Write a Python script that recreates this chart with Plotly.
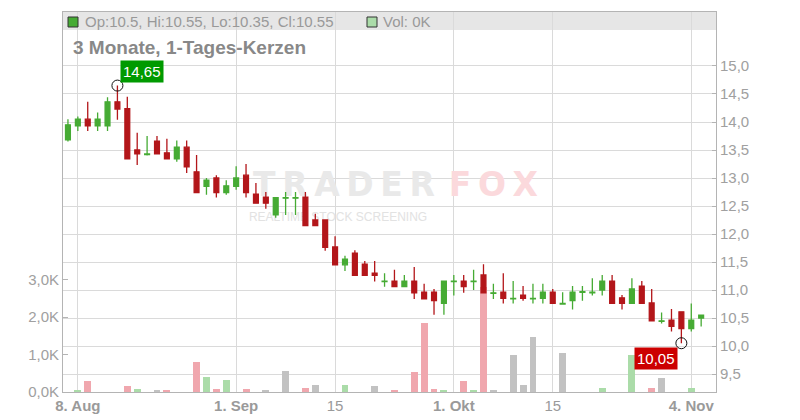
import plotly.graph_objects as go
import pandas as pd

# ---------------- data ----------------
dates = [d.strftime("%Y-%m-%d") for d in pd.bdate_range("2024-08-07", "2024-11-05")]

opens = [13.68, 13.93, 14.05, 13.93, 13.93, 14.36, 14.24, 13.50, 13.42, 13.66,
         13.45, 13.34, 13.55, 13.11, 12.85, 13.00, 12.74, 12.85, 13.05, 12.71,
         12.66, 12.34, 12.64, 12.64, 12.66, 12.25, 12.25, 11.77, 11.45, 11.66,
         11.46, 11.30, 11.15, 11.16, 11.06, 11.16, 10.96, 10.96, 10.76, 11.15,
         11.16, 11.15, 11.27, 10.94, 10.96, 10.84, 10.91, 10.84, 10.85, 10.96,
         10.75, 10.81, 10.96, 10.95, 11.00, 11.16, 10.86, 10.76, 11.07, 10.77,
         10.44, 10.46, 10.61, 10.31, 10.50]
highs = [14.05, 14.10, 14.36, 14.17, 14.44, 14.65, 14.45, 13.81, 13.75, 13.75,
         13.70, 13.67, 13.67, 13.41, 13.00, 13.05, 12.96, 13.21, 13.25, 12.91,
         12.75, 12.66, 12.75, 12.75, 12.75, 12.36, 12.25, 11.96, 11.61, 11.71,
         11.52, 11.52, 11.30, 11.36, 11.27, 11.41, 11.11, 11.02, 11.16, 11.27,
         11.27, 11.36, 11.46, 11.11, 11.30, 11.16, 11.07, 11.11, 11.11, 11.02,
         10.96, 11.07, 11.07, 11.21, 11.27, 11.27, 10.91, 11.21, 11.16, 11.02,
         10.60, 10.66, 10.61, 10.76, 10.55]
lows = [13.65, 13.84, 13.84, 13.84, 13.84, 14.04, 13.34, 13.23, 13.40, 13.43,
        13.34, 13.29, 13.09, 12.74, 12.70, 12.65, 12.70, 12.79, 12.65, 12.55,
        12.45, 12.29, 12.34, 12.34, 12.15, 12.15, 11.70, 11.45, 11.34, 11.26,
        11.26, 11.15, 11.06, 11.06, 11.06, 10.84, 10.84, 10.56, 10.56, 10.90,
        10.95, 11.00, 10.95, 10.84, 10.76, 10.76, 10.81, 10.76, 10.76, 10.76,
        10.75, 10.65, 10.81, 10.90, 10.90, 10.76, 10.65, 10.76, 10.76, 10.45,
        10.40, 10.26, 10.05, 10.26, 10.35]
closes = [13.95, 14.05, 13.93, 14.05, 14.36, 14.23, 13.34, 13.43, 13.43, 13.43,
          13.34, 13.55, 13.20, 12.74, 12.96, 12.74, 12.86, 13.00, 12.74, 12.55,
          12.55, 12.65, 12.65, 12.65, 12.15, 12.15, 11.76, 11.45, 11.55, 11.26,
          11.26, 11.26, 11.16, 11.06, 11.16, 10.95, 10.84, 10.81, 11.16, 11.16,
          11.06, 11.16, 10.95, 10.95, 10.85, 10.85, 10.85, 10.85, 10.96, 10.76,
          10.76, 10.96, 10.97, 10.96, 11.16, 10.76, 10.76, 11.02, 10.76, 10.45,
          10.45, 10.35, 10.31, 10.46, 10.55]
volumes_k = [0.00, 0.03, 0.29, 0.00, 0.00, 0.00, 0.16, 0.08, 0.00, 0.03,
             0.05, 0.00, 0.00, 0.80, 0.40, 0.08, 0.32, 0.00, 0.08, 0.00,
             0.05, 0.00, 0.56, 0.00, 0.10, 0.20, 0.00, 0.00, 0.18, 0.00,
             0.00, 0.16, 0.00, 0.05, 0.00, 0.53, 1.85, 0.08, 0.05, 0.00,
             0.29, 0.05, 2.80, 0.05, 0.00, 1.00, 0.20, 1.47, 0.00, 0.00,
             1.04, 0.00, 0.00, 0.00, 0.10, 0.00, 0.00, 1.00, 0.00, 0.10,
             0.37, 0.00, 0.00, 0.10, 0.00]

tick_dates = ["2024-08-08", "2024-08-30", "2024-09-13", "2024-10-01", "2024-10-15", "2024-11-04"]
tick_labels = ["<b>8. Aug</b>", "<b>1. Sep</b>", "15", "<b>1. Okt</b>", "15", "<b>4. Nov</b>"]
price_ticks = [9.5, 10.0, 10.5, 11.0, 11.5, 12.0, 12.5, 13.0, 13.5, 14.0, 14.5, 15.0]
vol_ticks = [0, 1, 2, 3]

# ---------------- styling ----------------
FONT = "Liberation Sans, Arial, sans-serif"
GREEN = "#46ab34"
RED = "#b3161a"
VOL_UP = "#abdca9"
VOL_DN = "#f0a7ae"
VOL_EQ = "#c2c2c2"
GRID = "#dadada"
AXIS = "#b4b4b4"
TXT = "#a0a0a0"

x = list(range(len(dates)))
tick_pos = [dates.index(d) for d in tick_dates]

vol_colors = []
for i in range(len(closes)):
    if i == 0 or closes[i] == closes[i - 1]:
        vol_colors.append(VOL_EQ)
    elif closes[i] > closes[i - 1]:
        vol_colors.append(VOL_UP)
    else:
        vol_colors.append(VOL_DN)

i_hi = highs.index(max(highs))
i_lo = lows.index(min(lows))

fig = go.Figure()

# watermark (base layer, below candles)
TS = "\u2009"
fig.add_trace(go.Scatter(
    x=[27.9, 43.0], y=[5.45, 5.45], mode="text",
    text=["<b>" + TS.join("TRADER") + "</b>", "<b>" + TS.join("FOX") + "</b>"],
    textfont=dict(family="DejaVu Sans", size=33, color=["#e9e9e9", "#fbd9dc"]),
    yaxis="y", hoverinfo="skip", showlegend=False))
fig.add_trace(go.Scatter(
    x=[27.3], y=[4.66], mode="text",
    text=["REALTIME STOCK SCREENING"],
    textfont=dict(family=FONT, size=12, color="#e2e2e2"),
    yaxis="y", hoverinfo="skip", showlegend=False))

# volume
fig.add_trace(go.Bar(
    x=x, y=volumes_k, marker=dict(color=vol_colors, line=dict(width=0)),
    width=0.7, yaxis="y", showlegend=False, hoverinfo="skip"))

# candles
fig.add_trace(go.Candlestick(
    x=x, open=opens, high=highs, low=lows, close=closes,
    increasing=dict(line=dict(color=GREEN, width=1.3), fillcolor=GREEN),
    decreasing=dict(line=dict(color=RED, width=1.3), fillcolor=RED),
    whiskerwidth=0, yaxis="y2", showlegend=False))

# extreme markers
fig.add_trace(go.Scatter(
    x=[i_hi, i_lo], y=[highs[i_hi], lows[i_lo]], mode="markers",
    marker=dict(symbol="circle-open", size=11, color="#111", line=dict(width=1)),
    yaxis="y2", showlegend=False, hoverinfo="skip"))

def fmt(v):
    return f"{v:.2f}".replace(".", ",")

# page body has an 8px margin; plot area wanted at x 63..716, y 12..392 of the window
OFF = 8
L, T, PW, PH = 63 - OFF, 12 - OFF, 653.0, 380.0
W = PW
H = PH

annotations = [
    dict(text=fmt(highs[i_hi]), x=i_hi, y=highs[i_hi], xref="x", yref="y2",
         xanchor="left", yanchor="bottom", xshift=3, yshift=3, showarrow=False,
         bgcolor="#009a00", borderpad=2, font=dict(family=FONT, size=15, color="white")),
    dict(text=fmt(lows[i_lo]), x=i_lo, y=lows[i_lo], xref="x", yref="y2",
         xanchor="right", yanchor="top", xshift=-3, yshift=-4, showarrow=False,
         bgcolor="#cc0000", borderpad=2, font=dict(family=FONT, size=15, color="white")),
    dict(text="<b>3 Monate, 1-Tages-Kerzen</b>", xref="paper", yref="paper",
         x=(71 - 63) / W, y=(392 - 48) / H, xanchor="left", yanchor="middle",
         showarrow=False, font=dict(family=FONT, size=19, color="#888888")),
    dict(text=f"Op:{opens[-1]:g}, Hi:{highs[-1]:g}, Lo:{lows[-1]:g}, Cl:{closes[-1]:g}",
         xref="paper", yref="paper", x=(83 - 63) / W, y=(392 - 21.5) / H,
         xanchor="left", yanchor="middle", showarrow=False,
         font=dict(family=FONT, size=15, color="#999999")),
    dict(text=f"Vol: {volumes_k[-1]:.0f}K", xref="paper", yref="paper",
         x=(381 - 63) / W, y=(392 - 21.5) / H, xanchor="left", yanchor="middle",
         showarrow=False, font=dict(family=FONT, size=15, color="#999999")),
]

shapes = [
    dict(type="rect", xref="paper", yref="paper", x0=0, x1=1,
         y0=(392 - 30) / H, y1=1, fillcolor="#e6e6e6", line=dict(width=0), layer="below"),
    dict(type="rect", xref="paper", yref="paper", x0=5 / W, x1=15 / W,
         y0=(392 - 27) / H, y1=(392 - 17) / H, fillcolor=GREEN,
         line=dict(color="#333333", width=1)),
    dict(type="rect", xref="paper", yref="paper", x0=304 / W, x1=314 / W,
         y0=(392 - 27) / H, y1=(392 - 17) / H, fillcolor=VOL_UP,
         line=dict(color="#333333", width=1)),
]

fig.update_layout(
    width=800 - OFF, height=420 - OFF,
    margin=dict(l=L, r=800 - OFF - L - PW, t=T, b=420 - OFF - T - PH, autoexpand=False),
    paper_bgcolor="white", plot_bgcolor="white",
    font=dict(family=FONT, size=15, color=TXT),
    showlegend=False, bargap=0,
    annotations=annotations, shapes=shapes,
    xaxis=dict(
        range=[-0.5, 65.5], tickmode="array", tickvals=tick_pos, ticktext=tick_labels,
        showgrid=True, gridcolor=GRID, gridwidth=1, zeroline=False,
        showline=True, linecolor=AXIS, linewidth=1, mirror=True, ticks="",
        tickfont=dict(family=FONT, size=15, color="#9a9a9a"), automargin=False,
        rangeslider=dict(visible=False), fixedrange=True),
    yaxis=dict(
        range=[0, 10.16], tickmode="array", tickvals=vol_ticks,
        ticktext=[f"{v:.1f}K".replace(".", ",") for v in vol_ticks],
        showgrid=False, zeroline=False, showline=True, linecolor=AXIS, linewidth=1,
        ticks="inside", ticklen=5, tickcolor=AXIS, side="left", automargin=False,
        ticklabelstandoff=0, tickfont=dict(family=FONT, size=15, color=TXT)),
    yaxis2=dict(
        range=[9.179, 15.964], tickmode="array", tickvals=price_ticks,
        ticktext=[f"{v:.1f}".replace(".", ",") for v in price_ticks],
        overlaying="y", side="right", showgrid=True, gridcolor=GRID, gridwidth=1,
        zeroline=False, showline=True, linecolor=AXIS, linewidth=1, automargin=False,
        ticks="inside", ticklen=4, tickcolor=AXIS, ticklabelstandoff=0,
        tickfont=dict(family=FONT, size=15, color=TXT)),
)

fig.write_html("out.html")
